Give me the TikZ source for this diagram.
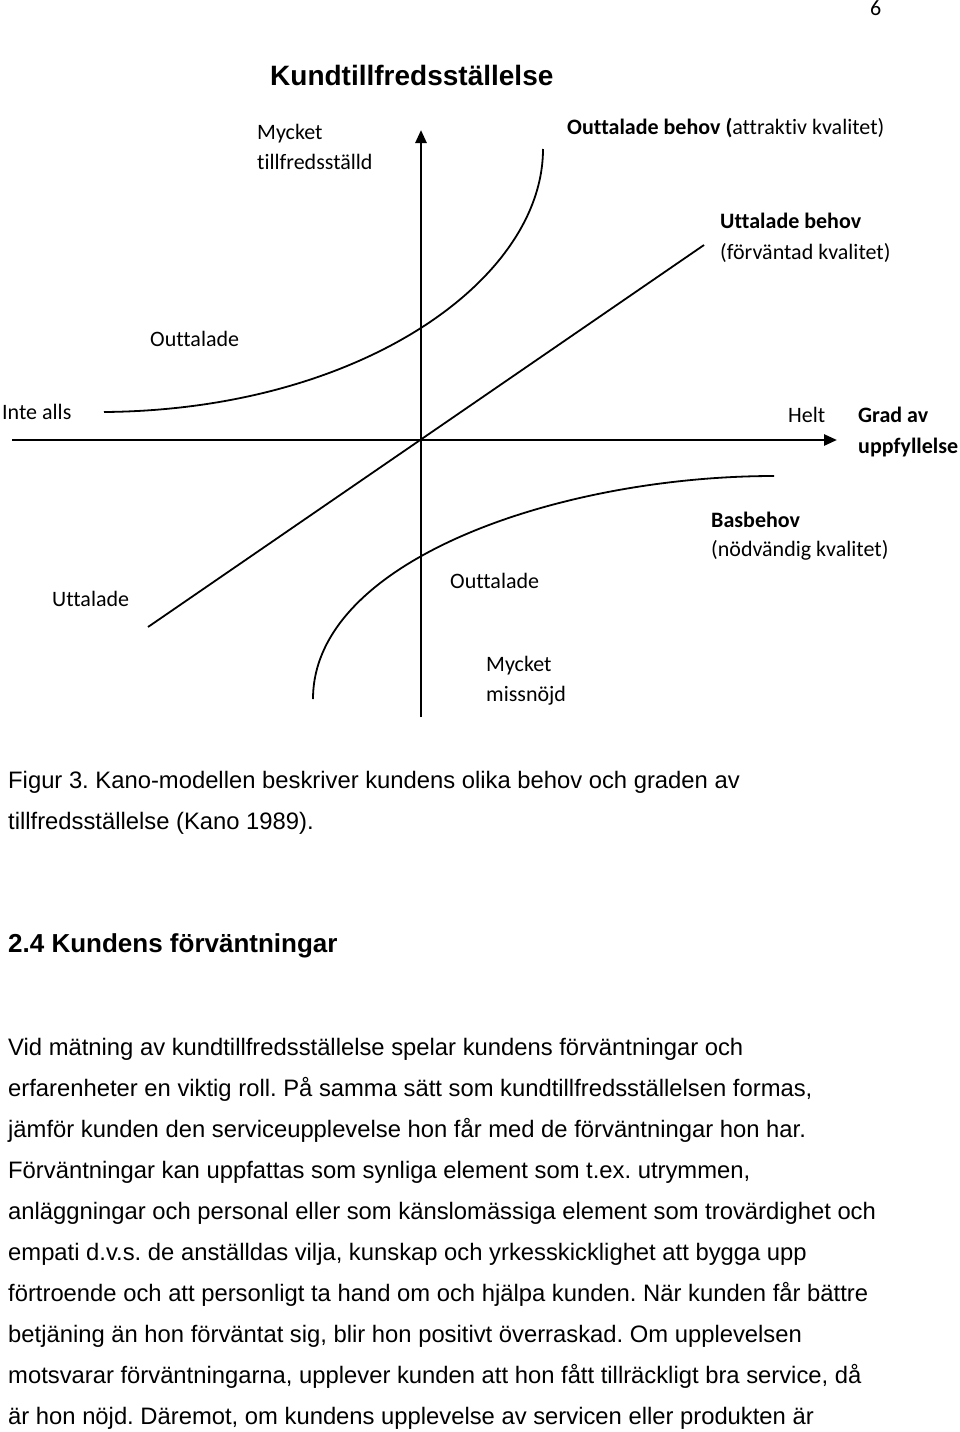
\documentclass[tikz,border=0pt]{standalone}
\usepackage{fontspec}
\setmainfont{Liberation Sans}
\newfontfamily\calfont[Ligatures={NoCommon,NoContextual}]{Carlito}
\usetikzlibrary{arrows.meta}
\frenchspacing
\begin{document}
\begin{tikzpicture}[x=1pt,y=-1pt,
  lab/.style={anchor=base west,inner sep=0pt,font=\calfont\fontsize{22}{26}\selectfont},
  blab/.style={lab,font=\calfont\bfseries\fontsize{22}{26}\selectfont},
  body/.style={anchor=base west,inner sep=0pt,font=\fontsize{23.8}{28}\selectfont},
  axis/.style={line width=2.6pt,-{Triangle[length=13pt,width=11pt]}},
  curve/.style={line width=1.8pt}]
\useasboundingbox (0,0) rectangle (960,1432);
% page number and title
\node[lab] (pg) at (870,15) {6};
\node[anchor=base west,inner sep=0pt,font=\bfseries\fontsize{28}{32}\selectfont] (title) at (270,85) {Kundtillfredsställelse};
% axes
\coordinate (vb) at (421,717);
\coordinate (vt) at (421,130);
\coordinate (hl) at (12,440);
\coordinate (hr) at (837,440);
\draw[axis] (vb) -- (vt);
\draw[axis] (hl) -- (hr);
% curves
\coordinate (a0) at (104,412);
\coordinate (a1) at (543,149);
\draw[curve] (a0) .. controls (360,410) and (543,280) .. (a1);
\coordinate (l0) at (148,627);
\coordinate (l1) at (704,245);
\draw[curve] (l0) -- (l1);
\coordinate (b0) at (313,699);
\coordinate (b1) at (774,476);
\draw[curve] (b0) .. controls (313,560) and (560,476) .. (b1);
% labels
\node[lab] (myck1) at (257,139) {Mycket};
\node[lab] (tillf) at (257,169) {tillfredsställd};
\node[lab] (attr) at (567,134) {\textbf{Outtalade behov (}attraktiv kvalitet)};
\node[blab] (utt1) at (720,228) {Uttalade behov};
\node[lab] (forv) at (720,259) {(förväntad kvalitet)};
\node[lab] (outt1) at (150,346) {Outtalade};
\node[lab] (inte) at (2,419) {Inte alls};
\node[lab] (helt) at (788,422) {Helt};
\node[blab] (grad) at (858,422) {Grad av};
\node[blab] (uppf) at (858,453) {uppfyllelse};
\node[blab] (bas) at (711,527) {Basbehov};
\node[lab] (nodv) at (711,556) {(nödvändig kvalitet)};
\node[lab] (utt2) at (52,606) {Uttalade};
\node[lab] (outt2) at (450,588) {Outtalade};
\node[lab] (myck2) at (486,671) {Mycket};
\node[lab] (missn) at (486,701) {missnöjd};
% caption and text
\node[body] (cap1) at (8,788) {Figur 3. Kano-modellen beskriver kundens olika behov och graden av};
\node[body] (cap2) at (8,829) {tillfredsställelse (Kano 1989).};
\node[anchor=base west,inner sep=0pt,font=\bfseries\fontsize{26}{30}\selectfont] (head) at (8,952) {2.4 Kundens förväntningar};
\node[body] (t1) at (8,1055) {Vid mätning av kundtillfredsställelse spelar kundens förväntningar och};
\node[body] (t2) at (8,1096.1) {erfarenheter en viktig roll. På samma sätt som kundtillfredsställelsen formas,};
\node[body] (t3) at (8,1137.2) {jämför kunden den serviceupplevelse hon får med de förväntningar hon har.};
\node[body] (t4) at (8,1178.3) {Förväntningar kan uppfattas som synliga element som t.ex. utrymmen,};
\node[body] (t5) at (8,1219.4) {anläggningar och personal eller som känslomässiga element som trovärdighet och};
\node[body] (t6) at (8,1260.5) {empati d.v.s. de anställdas vilja, kunskap och yrkesskicklighet att bygga upp};
\node[body] (t7) at (8,1301.6) {förtroende och att personligt ta hand om och hjälpa kunden. När kunden får bättre};
\node[body] (t8) at (8,1342.7) {betjäning än hon förväntat sig, blir hon positivt överraskad. Om upplevelsen};
\node[body] (t9) at (8,1383.8) {motsvarar förväntningarna, upplever kunden att hon fått tillräckligt bra service, då};
\node[body] (t10) at (8,1424.9) {är hon nöjd. Däremot, om kundens upplevelse av servicen eller produkten är};
\end{tikzpicture}
\end{document}
